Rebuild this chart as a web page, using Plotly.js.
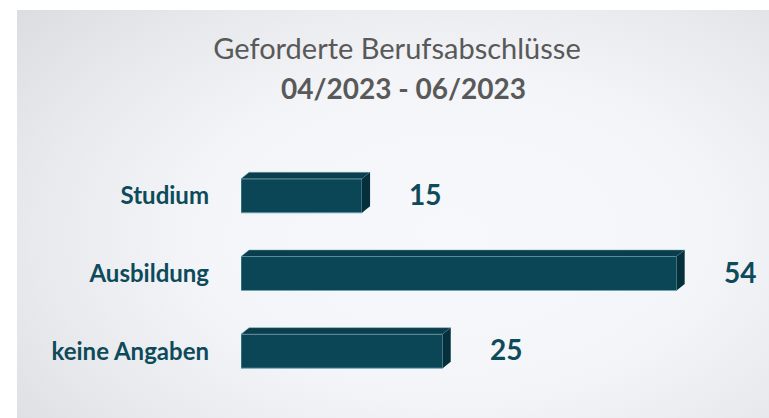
<!DOCTYPE html>
<html>
<head>
<meta charset="utf-8">
<script src="https://cdn.plot.ly/plotly-3.0.1.min.js"></script>
<style>
  html, body { margin: 0; padding: 0; background: #ffffff; }
  #wrap { position: relative; width: 769px; height: 418px; overflow: hidden; background: #ffffff; }
  #panel { position: absolute; left: 17px; top: 10px; width: 752px; height: 408px;
    background: radial-gradient(ellipse 75% 85% at 58% 55%, #f6f8fb 0%, #f3f5f8 45%, #e8e9ec 75%, #dcdde0 100%); }
  #chart { position: absolute; left: 0; top: 0; width: 769px; height: 418px; }
</style>
</head>
<body>
<div id="wrap"><div id="panel"></div><div id="chart"></div></div>
<script>
// ---- data ----
const categories = ["Studium", "Ausbildung", "keine Angaben"];
const values = [15, 54, 25];
const titleLine1 = "Geforderte Berufsabschlüsse";
const titleLine2 = "04/2023 - 06/2023";

// ---- styling ----
const barColor = "#0b4656";
const topColor = "#0a3e4c";
const sideColor = "#052f3a";
const textColor = "#0d4a5a";
const barWidth = 0.438;   // front face height in category units
const depthX = 1.0;       // 3D depth, x units
const depthY = 0.084;     // 3D depth, y units

const pos = categories.map((c, i) => i);

const bars = {
  type: "bar",
  orientation: "h",
  x: values,
  y: pos,
  width: barWidth,
  marker: { color: barColor, line: { color: "rgba(110,165,180,0.85)", width: 1 } },
  hoverinfo: "skip",
  showlegend: false
};

const shapes = [];
values.forEach((v, i) => {
  const c = pos[i];
  const t = c - barWidth / 2;
  const b = c + barWidth / 2;
  // top face
  shapes.push({
    type: "path", xref: "x", yref: "y", layer: "above",
    path: `M 0 ${t} L ${depthX} ${t - depthY} L ${v + depthX} ${t - depthY} L ${v} ${t} Z`,
    fillcolor: topColor, line: { color: "rgba(120,170,185,0.6)", width: 0.8 }
  });
  // side face
  shapes.push({
    type: "path", xref: "x", yref: "y", layer: "above",
    path: `M ${v} ${t} L ${v + depthX} ${t - depthY} L ${v + depthX} ${b - depthY} L ${v} ${b} Z`,
    fillcolor: sideColor, line: { width: 0 }
  });
});

const annotations = values.map((v, i) => ({
  x: v, y: pos[i], xref: "x", yref: "y",
  text: "<b>" + v + "</b>", showarrow: false,
  xanchor: "left", yanchor: "middle", xshift: 45, yshift: 2,
  font: { family: "Lato, 'Open Sans', sans-serif", size: 28, color: textColor }
}));
annotations.push({
  xref: "paper", yref: "paper", x: (403 - 241) / 484, y: 1 + (157 - 88) / 233,
  text: "<b>" + titleLine2 + "</b>", showarrow: false,
  xanchor: "center", yanchor: "middle",
  font: { family: "Lato, 'Open Sans', sans-serif", size: 28, color: "#595959" }
});

const layout = {
  width: 769, height: 418,
  margin: { l: 241, r: 44, t: 157, b: 28, pad: 0 },
  paper_bgcolor: "rgba(0,0,0,0)",
  plot_bgcolor: "rgba(0,0,0,0)",
  title: {
    text: titleLine1, xref: "container", yref: "container",
    x: 397 / 769, xanchor: "center", y: 1 - 49 / 418, yanchor: "middle",
    font: { family: "Lato, 'Open Sans', sans-serif", size: 29, color: "#595959" }
  },
  xaxis: { range: [0, 60], showgrid: false, zeroline: false, showticklabels: false,
           ticks: "", showline: false, fixedrange: true },
  yaxis: { range: [2.5, -0.5], tickvals: pos, ticktext: categories, showgrid: false,
           zeroline: false, ticks: "", showline: false, ticklabelstandoff: 31,
           tickfont: { family: "Lato, 'Open Sans', sans-serif", size: 24, color: textColor, weight: "bold" } },
  shapes: shapes,
  annotations: annotations,
  bargap: 0
};

Plotly.newPlot("chart", [bars], layout, { displayModeBar: false, staticPlot: true });
</script>
</body>
</html>
